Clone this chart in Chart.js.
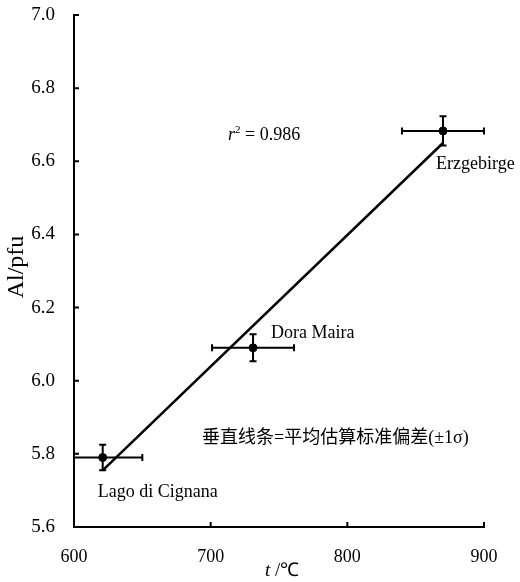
<!DOCTYPE html>
<html>
<head>
<meta charset="utf-8">
<script src="https://cdn.jsdelivr.net/npm/chart.js@4.4.1/dist/chart.umd.min.js"></script>
<style>
  html, body { margin: 0; padding: 0; background: #fff; }
  #wrap { width: 520px; height: 582px; }
</style>
</head>
<body>
<div id="wrap"><canvas id="alChart"></canvas></div>
<script>
// Al/pfu vs temperature, three localities with 1-sigma error bars

const siteNames = ["Lago di Cignana", "Dora Maira", "Erzgebirge"];
const tempC = [621, 731, 870];
const alPfu = [5.79, 6.09, 6.683];
const tempErr = [29, 30, 30];
const alErr = [0.035, 0.037, 0.04];

// regression line end points
const fitT = [621, 870];
const fitAl = [5.755, 6.65];

const xTicks = [600, 700, 800, 900];
const yTicks = [5.6, 5.8, 6.0, 6.2, 6.4, 6.6, 6.8, 7.0];

const rSquared = "0.986";
const noteText = "垂直线条=平均估算标准偏差(±1σ)";

const serif = "'Liberation Serif', 'Times New Roman', serif";
const cjk = "'Liberation Serif', 'Noto Sans CJK SC', serif";

document.addEventListener("DOMContentLoaded", () => {
  const ctx = document.getElementById("alChart");

  // error bars, under the points
  const errorBars = {
    id: "errorBars",
    beforeDatasetsDraw(chart) {
      const { ctx, chartArea, scales } = chart;
      const x = scales.x, y = scales.y;
      const cap = 3.5;
      ctx.save();
      ctx.beginPath();
      ctx.rect(chartArea.left, chartArea.top - 10, chartArea.width + 5, chartArea.height + 10);
      ctx.clip();
      ctx.strokeStyle = "#000";
      ctx.lineWidth = 2;
      tempC.forEach((t, i) => {
        const px = x.getPixelForValue(t);
        const py = y.getPixelForValue(alPfu[i]);
        const x0 = x.getPixelForValue(t - tempErr[i]);
        const x1 = x.getPixelForValue(t + tempErr[i]);
        const y0 = y.getPixelForValue(alPfu[i] - alErr[i]);
        const y1 = y.getPixelForValue(alPfu[i] + alErr[i]);
        ctx.beginPath();
        ctx.moveTo(x0, py); ctx.lineTo(x1, py);
        ctx.moveTo(x0, py - cap); ctx.lineTo(x0, py + cap);
        ctx.moveTo(x1, py - cap); ctx.lineTo(x1, py + cap);
        ctx.moveTo(px, y0); ctx.lineTo(px, y1);
        ctx.moveTo(px - cap, y0); ctx.lineTo(px + cap, y0);
        ctx.moveTo(px - cap, y1); ctx.lineTo(px + cap, y1);
        ctx.stroke();
      });
      ctx.restore();
    },
  };

  // inward tick marks, labels, axis titles
  const decorations = {
    id: "decorations",
    afterDraw(chart) {
      const { ctx, chartArea, scales } = chart;
      const x = scales.x, y = scales.y;
      const tick = 5;
      ctx.save();
      ctx.strokeStyle = "#000";
      ctx.lineWidth = 2;
      ctx.beginPath();
      xTicks.forEach((v) => {
        const px = x.getPixelForValue(v);
        ctx.moveTo(px, chartArea.bottom);
        ctx.lineTo(px, chartArea.bottom - tick);
      });
      yTicks.forEach((v) => {
        const py = y.getPixelForValue(v);
        ctx.moveTo(chartArea.left, py);
        ctx.lineTo(chartArea.left + tick, py);
      });
      ctx.stroke();

      ctx.fillStyle = "#000";
      ctx.textBaseline = "alphabetic";
      ctx.textAlign = "left";

      // site labels, offset from their points
      const offsets = [[-5, 39], [18, -10], [-7, 38]];
      ctx.font = "18px " + serif;
      siteNames.forEach((name, i) => {
        const px = x.getPixelForValue(tempC[i]);
        const py = y.getPixelForValue(alPfu[i]);
        ctx.fillText(name, px + offsets[i][0], py + offsets[i][1]);
      });

      // r^2 = ...
      let rx = chartArea.left + 154;
      const ry = chartArea.top + 125;
      ctx.font = "italic 18px " + serif;
      ctx.fillText("r", rx, ry);
      rx += ctx.measureText("r").width;
      ctx.font = "11px " + serif;
      ctx.fillText("2", rx, ry - 7);
      rx += ctx.measureText("2").width;
      ctx.font = "18px " + serif;
      ctx.fillText(" = " + rSquared, rx, ry);

      // note
      ctx.font = "18px " + cjk;
      ctx.fillText(noteText, chartArea.left + 128, chartArea.top + 428);

      // x title: t /℃
      let tx = 265;
      ctx.font = "italic 19px " + serif;
      ctx.fillText("t", tx, 576);
      tx += ctx.measureText("t").width;
      ctx.font = "19px " + serif;
      ctx.fillText(" /℃", tx, 576);

      // y title
      ctx.translate(23, 267);
      ctx.rotate(-Math.PI / 2);
      ctx.textAlign = "center";
      ctx.font = "24px " + serif;
      ctx.fillText("Al/pfu", 0, 0);
      ctx.restore();
    },
  };

  new Chart(ctx, {
    type: "scatter",
    data: {
      datasets: [
        {
          label: "fit",
          data: fitT.map((t, i) => ({ x: t, y: fitAl[i] })),
          showLine: true,
          borderColor: "#000",
          borderWidth: 2.5,
          pointRadius: 0,
          order: 2,
        },
        {
          label: "sites",
          data: tempC.map((t, i) => ({ x: t, y: alPfu[i] })),
          backgroundColor: "#000",
          borderColor: "#000",
          pointRadius: 4,
          order: 1,
        },
      ],
    },
    options: {
      responsive: true,
      maintainAspectRatio: false,
      animation: false,
      layout: { padding: { top: 15, right: 36, left: 0, bottom: 0 } },
      plugins: {
        legend: { display: false },
        tooltip: { enabled: false },
      },
      scales: {
        x: {
          type: "linear",
          min: 600,
          max: 900,
          afterBuildTicks: (s) => { s.ticks = xTicks.map((v) => ({ value: v })); },
          afterFit: (s) => {
            s.height = 55;
            s.paddingLeft = 0;
            s.paddingRight = 0;
          },
          grid: { display: false },
          border: { display: true, color: "#000", width: 2 },
          ticks: {
            color: "#000",
            padding: 11,
            font: { family: serif, size: 18 },
          },
        },
        y: {
          type: "linear",
          min: 5.6,
          max: 7.0,
          afterBuildTicks: (s) => { s.ticks = yTicks.map((v) => ({ value: v })); },
          afterFit: (s) => {
            s.width = 74;
            s.paddingTop = 0;
            s.paddingBottom = 0;
          },
          grid: { display: false },
          border: { display: true, color: "#000", width: 2 },
          ticks: {
            color: "#000",
            padding: 11,
            font: { family: serif, size: 19 },
            callback: (v) => Number(v).toFixed(1),
          },
        },
      },
    },
    plugins: [errorBars, decorations],
  });
});
</script>
</body>
</html>
